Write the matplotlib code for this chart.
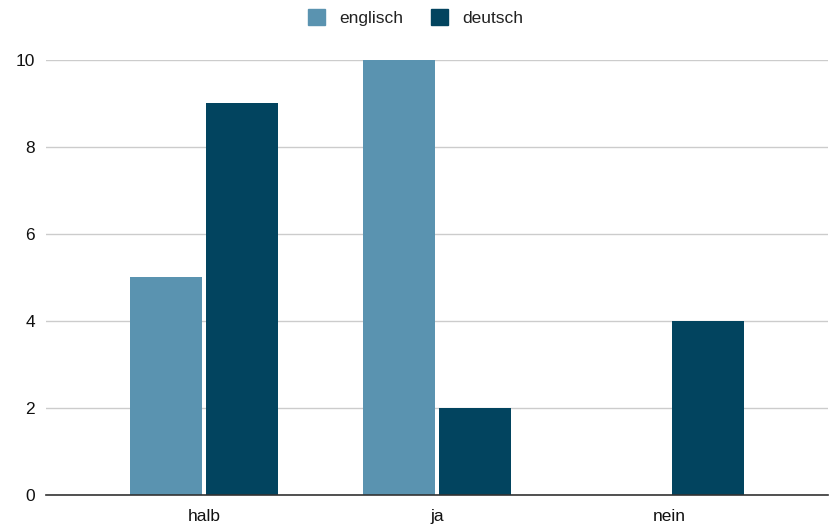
import numpy as np
import matplotlib
matplotlib.use("Agg")
import matplotlib.pyplot as plt
import matplotlib.patches as mpatches

plt.rcParams["font.family"] = ["Liberation Sans", "DejaVu Sans"]

categories = ["halb", "ja", "nein"]
englisch = [5, 10, 0]
deutsch = [9, 2, 4]
series_names = ["englisch", "deutsch"]
COLORS = ["#5a93b0", "#02445f"]

fig = plt.figure(figsize=(8.31, 5.28), dpi=100)
ax = fig.add_axes([0.0554, 0.0625, 0.9406, 0.8239])

x = np.arange(len(categories))
w = 0.309
off = 0.163
ax.bar(x - off, englisch, w, color=COLORS[0], zorder=3)
ax.bar(x + off, deutsch, w, color=COLORS[1], zorder=3)

ax.set_xlim(-0.678, 2.678)
ax.set_ylim(0, 10)
ax.set_yticks([0, 2, 4, 6, 8, 10])
ax.set_xticks(x)
ax.set_xticklabels(categories)
ax.tick_params(length=0, labelsize=12.5, colors="#111111")
ax.tick_params(axis="y", pad=8)
ax.tick_params(axis="x", pad=10)
ax.grid(axis="y", color="#cccccc", linewidth=1, zorder=0)
for s in ["top", "right", "left"]:
    ax.spines[s].set_visible(False)
ax.spines["bottom"].set_color("#333333")
ax.spines["bottom"].set_linewidth(1.2)
ax.spines["bottom"].set_zorder(4)

handles = [mpatches.Patch(color=c, label=n) for c, n in zip(COLORS, series_names)]
fig.legend(handles=handles, loc="center", bbox_to_anchor=(0.5, 0.967), ncol=2,
           frameon=False, fontsize=12.5, handlelength=1.0, handleheight=1.0,
           handletextpad=0.8, columnspacing=1.6, labelcolor="#222222")

fig.savefig("out.png", dpi=100)
